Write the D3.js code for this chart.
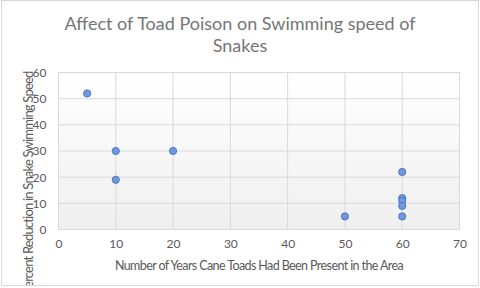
<!DOCTYPE html>
<html>
<head>
<meta charset="utf-8">
<script src="https://cdn.jsdelivr.net/npm/d3@7"></script>
<style>
  body { margin: 0; background: #fff; }
  text { font-family: Lato, "Open Sans", sans-serif; }
</style>
</head>
<body>
<div class="canvas"></div>
<script>
// values
var years = [5, 10, 10, 20, 50, 60, 60, 60, 60, 60];
var reduction = [52, 30, 19, 30, 5, 22, 12, 11, 9, 5];
var xTicks = [0, 10, 20, 30, 40, 50, 60, 70];
var yTicks = [0, 10, 20, 30, 40, 50, 60];

var width = 480, height = 288;
var svg = d3.select('.canvas').append('svg')
	.attr('width', width).attr('height', height);

var grad = svg.append('defs').append('linearGradient')
	.attr('id', 'bg').attr('x1', 0).attr('y1', 0).attr('x2', 0).attr('y2', 1);
grad.append('stop').attr('offset', '0%').attr('stop-color', '#ffffff');
grad.append('stop').attr('offset', '100%').attr('stop-color', '#efefef');

var x = d3.scaleLinear().domain([0, 70]).range([58.5, 459.5]);
var y = d3.scaleLinear().domain([0, 60]).range([229.5, 72.5]);

// plot area
svg.append('rect')
	.attr('x', x(0)).attr('y', y(60))
	.attr('width', x(70) - x(0)).attr('height', y(0) - y(60))
	.attr('fill', 'url(#bg)').attr('stroke', '#d9d9d9');

// gridlines
svg.selectAll('line.vgrid').data(xTicks).enter().append('line')
	.attr('x1', d => x(d)).attr('x2', d => x(d))
	.attr('y1', y(0)).attr('y2', y(60))
	.attr('stroke', '#d9d9d9');
svg.selectAll('line.hgrid').data(yTicks).enter().append('line')
	.attr('x1', x(0)).attr('x2', x(70))
	.attr('y1', d => y(d)).attr('y2', d => y(d))
	.attr('stroke', '#d9d9d9');

// axes (labels only)
var xAxis = svg.append('g').attr('transform', 'translate(0,' + (y(0) + 4) + ')')
	.call(d3.axisBottom(x).tickValues(xTicks).tickSize(0).tickPadding(6));
var yAxis = svg.append('g').attr('transform', 'translate(' + (x(0) - 6) + ',0)')
	.call(d3.axisLeft(y).tickValues(yTicks).tickSize(0).tickPadding(6));
[xAxis, yAxis].forEach(function(a) {
	a.select('.domain').remove();
	a.selectAll('text').attr('fill', '#595959').style('font-size', '12px')
		.style('font-family', 'Lato, sans-serif');
});

// points
svg.selectAll('circle.pt').data(years).enter().append('circle')
	.attr('cx', d => x(d))
	.attr('cy', (d, i) => y(reduction[i]))
	.attr('r', 3.6)
	.attr('fill', '#7397db')
	.attr('stroke', '#4472c4')
	.attr('stroke-width', 0.9);

// title
var title = svg.append('text')
	.attr('text-anchor', 'middle')
	.attr('fill', '#757575')
	.style('font-size', '18px');
title.append('tspan').attr('x', 240).attr('y', 30).text('Affect of Toad Poison on Swimming speed of');
title.append('tspan').attr('x', 240).attr('y', 52).text('Snakes');

// axis titles
svg.append('text')
	.attr('x', 259).attr('y', 270)
	.attr('text-anchor', 'middle')
	.attr('fill', '#595959')
	.style('font-size', '12.5px')
	.style('letter-spacing', '-0.6px')
	.text('Number of Years Cane Toads Had Been Present in the Area');

svg.append('text')
	.attr('transform', 'translate(33,183) rotate(-90)')
	.attr('text-anchor', 'middle')
	.attr('fill', '#595959')
	.style('font-size', '13px')
	.style('letter-spacing', '-0.8px')
	.text('Percent Reduction in Snake Swimming Speed');

// outer chart border, drawn last so it clips over the y title
svg.append('rect').attr('x', 0).attr('y', 0).attr('width', 1.5).attr('height', height).attr('fill', '#fff');
svg.append('rect').attr('x', 0).attr('y', height - 2).attr('width', width).attr('height', 2).attr('fill', '#fff');
svg.append('rect')
	.attr('x', 1.5).attr('y', 0.5)
	.attr('width', width - 3).attr('height', height - 3)
	.attr('fill', 'none').attr('stroke', '#d9d9d9');
</script>
</body>
</html>
